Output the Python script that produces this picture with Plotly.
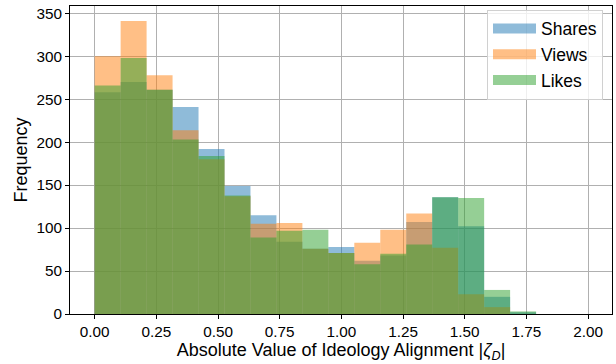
import numpy as np
import plotly.graph_objects as go

# Histogram bin settings (17 equal bins starting at 0)
BIN_START = 0.0
BIN_WIDTH = 0.10525

shares = [258, 270, 261, 241, 192, 149, 115, 84, 76, 78, 62, 68, 107, 136, 102, 20, 2]
views = [300, 341, 278, 214, 180, 137, 105, 106, 76, 71, 83, 98, 117, 77, 23, 8, 0]
likes = [266, 298, 261, 203, 184, 138, 89, 97, 98, 71, 58, 70, 81, 136, 135, 28, 3]

series_names = ["Shares", "Views", "Likes"]
series_colors = ["rgba(31,119,180,0.5)", "rgba(255,127,14,0.5)", "rgba(44,160,44,0.5)"]

x_ticks = [0.0, 0.25, 0.5, 0.75, 1.0, 1.25, 1.5, 1.75, 2.0]
y_ticks = [0, 50, 100, 150, 200, 250, 300, 350]

n_bins = len(shares)
centers = BIN_START + BIN_WIDTH * (np.arange(n_bins) + 0.5)

fig = go.Figure()
for name, vals, col in zip(series_names, [shares, views, likes], series_colors):
    fig.add_trace(go.Bar(
        x=centers, y=vals, width=BIN_WIDTH, name=name, showlegend=False,
        marker=dict(color=col, line=dict(width=0)),
    ))
# legend entries drawn as wide patches (like matplotlib's legend handles)
for name, col in zip(series_names, series_colors):
    fig.add_trace(go.Scatter(
        x=[None], y=[None], mode="lines", name=name,
        line=dict(color=col, width=13),
    ))

FONT = "Liberation Sans, Arial, sans-serif"
fig.update_layout(
    width=616, height=364,
    margin=dict(l=70, r=4, t=6, b=50, autoexpand=False),
    barmode="overlay",
    paper_bgcolor="white", plot_bgcolor="white",
    font=dict(family=FONT, size=15.3, color="black"),
    legend=dict(
        x=0.9834, y=0.988, xanchor="right", yanchor="top",
        bgcolor="rgba(255,255,255,0.8)", bordercolor="#d0d0d0", borderwidth=1,
        font=dict(size=17.5), tracegroupgap=0, itemwidth=43,
    ),
    xaxis=dict(
        range=[-0.1, 2.097], automargin=False,
        tickvals=x_ticks, ticktext=[f"{v:.2f}" for v in x_ticks],
        showgrid=True, gridcolor="#b0b0b0", gridwidth=0.8,
        showline=True, linecolor="black", linewidth=1, mirror=True,
        ticks="outside", ticklen=4, tickcolor="black",
        zeroline=False,
        title=dict(text="Absolute Value of Ideology Alignment |<i>ζ<sub>D</sub></i>|",
                   font=dict(size=18), standoff=2),
    ),
    yaxis=dict(
        range=[0, 358.5], automargin=False,
        tickvals=y_ticks,
        showgrid=True, gridcolor="#b0b0b0", gridwidth=0.8,
        showline=True, linecolor="black", linewidth=1, mirror=True,
        ticks="outside", ticklen=4, tickcolor="black",
        zeroline=False,
        title=dict(text="Frequency", font=dict(size=18), standoff=4),
    ),
)

fig.write_html("out.html", config={"displayModeBar": False},
               post_script="document.body.style.margin='0';document.body.style.padding='0';")
